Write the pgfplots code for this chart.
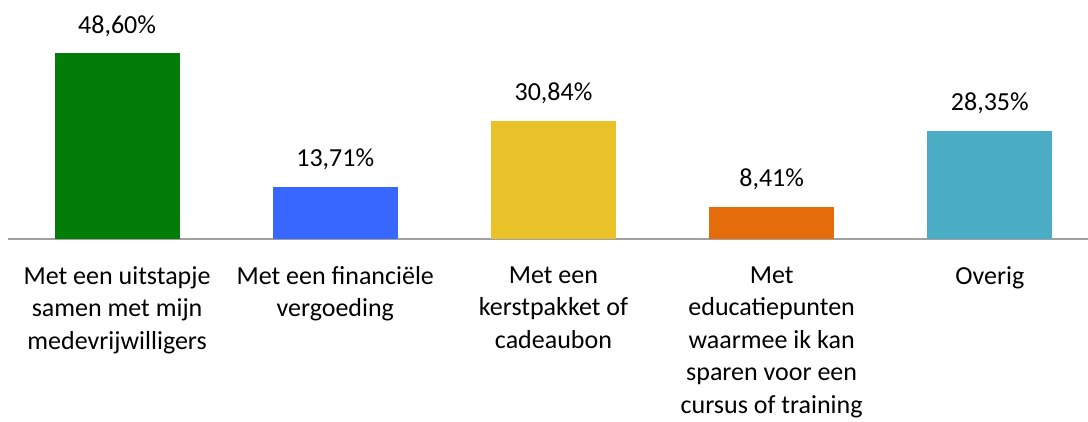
\documentclass[border=0pt]{standalone}
\usepackage{pgfplots}
\pgfplotsset{compat=1.18}
\usepackage{fontspec}
\setmainfont{Carlito}
\definecolor{cGreen}{HTML}{037D07}
\definecolor{cBlue}{HTML}{3767FF}
\definecolor{cYellow}{HTML}{E8C228}
\definecolor{cOrange}{HTML}{E46C0A}
\definecolor{cTeal}{HTML}{4BACC6}
\definecolor{cAxis}{HTML}{A0A0A0}
\begin{document}
\begin{tikzpicture}
\begin{axis}[
  scale only axis,
  width=810pt, height=179.25pt,
  xmin=-0.5, xmax=4.45,
  ymin=0, ymax=62.45,
  axis x line*=bottom,
  axis y line=none,
  x axis line style={draw=cAxis, line width=1.3pt, -},
  ybar, bar width=93.75pt, bar shift=0pt,
  xtick={0,1,2,3,4},
  major tick length=0pt,
  xticklabels={
    {Met een uitstapje\\samen met mijn\\medevrijwilligers},
    {Met een financiële\\vergoeding},
    {Met een\\kerstpakket of\\cadeaubon},
    {Met\\educatiepunten\\waarmee ik kan\\sparen voor een\\cursus of training},
    {Overig}},
  xticklabel style={align=center, font=\fontsize{19.5}{24.4}\selectfont, text=black, yshift=-17pt},
  /pgf/number format/assume math mode=true,
  nodes near coords={\pgfmathprintnumber[fixed,fixed zerofill,precision=2,use comma,assume math mode=true]{\pgfplotspointmeta}\%},
  every node near coord/.append style={anchor=base, yshift=15pt, inner sep=0pt, font=\fontsize{19.5}{24}\selectfont, text=black},
  clip=false,
]
\addplot[fill=cGreen, draw=none] coordinates {(0,48.60)};
\addplot[fill=cBlue, draw=none] coordinates {(1,13.71)};
\addplot[fill=cYellow, draw=none] coordinates {(2,30.84)};
\addplot[fill=cOrange, draw=none] coordinates {(3,8.41)};
\addplot[fill=cTeal, draw=none] coordinates {(4,28.35)};
\end{axis}
\pgfresetboundingbox
\path[use as bounding box] ([xshift=-6pt]current axis.north west) rectangle ([yshift=-137pt]current axis.south east);
\end{tikzpicture}
\end{document}
